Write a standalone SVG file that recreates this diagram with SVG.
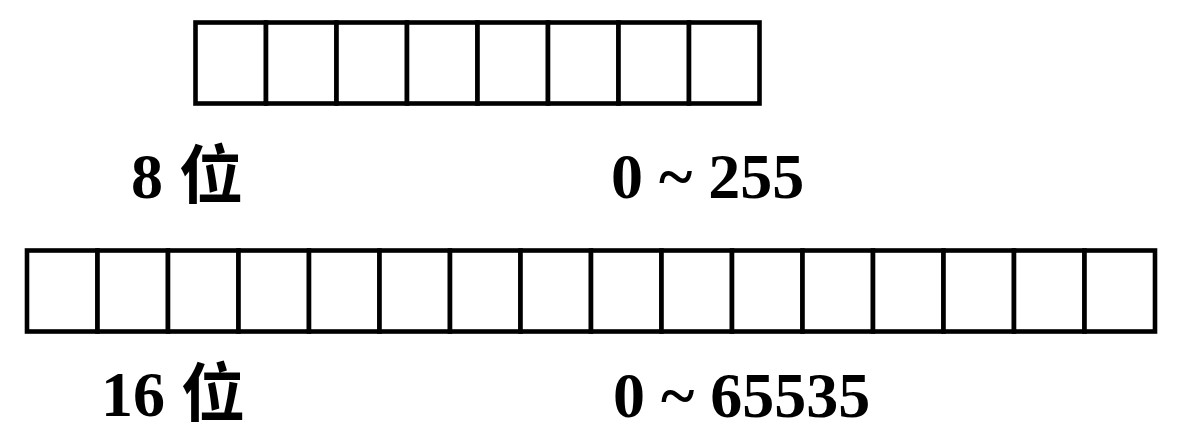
<svg xmlns="http://www.w3.org/2000/svg" width="1178" height="438" viewBox="0 0 1178 438">
<style>
.cell{fill:#fff;stroke:#000;stroke-width:4.6}
.lbl{font-family:"Liberation Serif","Noto Sans CJK SC",serif;font-weight:bold;font-size:64px;fill:#000}
</style>
<defs>
<rect id="c" class="cell" width="70.5" height="81"/>
</defs>
<rect width="1178" height="438" fill="#fff"/>
<g id="byte8">
<use href="#c" x="195.5" y="22.5"/><use href="#c" x="266" y="22.5"/><use href="#c" x="336.5" y="22.5"/><use href="#c" x="407" y="22.5"/>
<use href="#c" x="477.5" y="22.5"/><use href="#c" x="548" y="22.5"/><use href="#c" x="618.5" y="22.5"/><use href="#c" x="689" y="22.5"/>
</g>
<g id="byte16">
<use href="#c" x="27" y="250.5"/><use href="#c" x="97.5" y="250.5"/><use href="#c" x="168" y="250.5"/><use href="#c" x="238.5" y="250.5"/>
<use href="#c" x="309" y="250.5"/><use href="#c" x="379.5" y="250.5"/><use href="#c" x="450" y="250.5"/><use href="#c" x="520.5" y="250.5"/>
<use href="#c" x="591" y="250.5"/><use href="#c" x="661.5" y="250.5"/><use href="#c" x="732" y="250.5"/><use href="#c" x="802.5" y="250.5"/>
<use href="#c" x="873" y="250.5"/><use href="#c" x="943.5" y="250.5"/><use href="#c" x="1014" y="250.5"/><use href="#c" x="1084.5" y="250.5"/>
</g>
<g id="labels8">
<text class="lbl" x="131" y="198">8 位</text>
<text class="lbl" x="611" y="198">0 ~ 255</text>
</g>
<g id="labels16">
<text class="lbl" x="101" y="416">16 位</text>
<text class="lbl" x="613" y="417">0 ~ 65535</text>
</g>
</svg>
